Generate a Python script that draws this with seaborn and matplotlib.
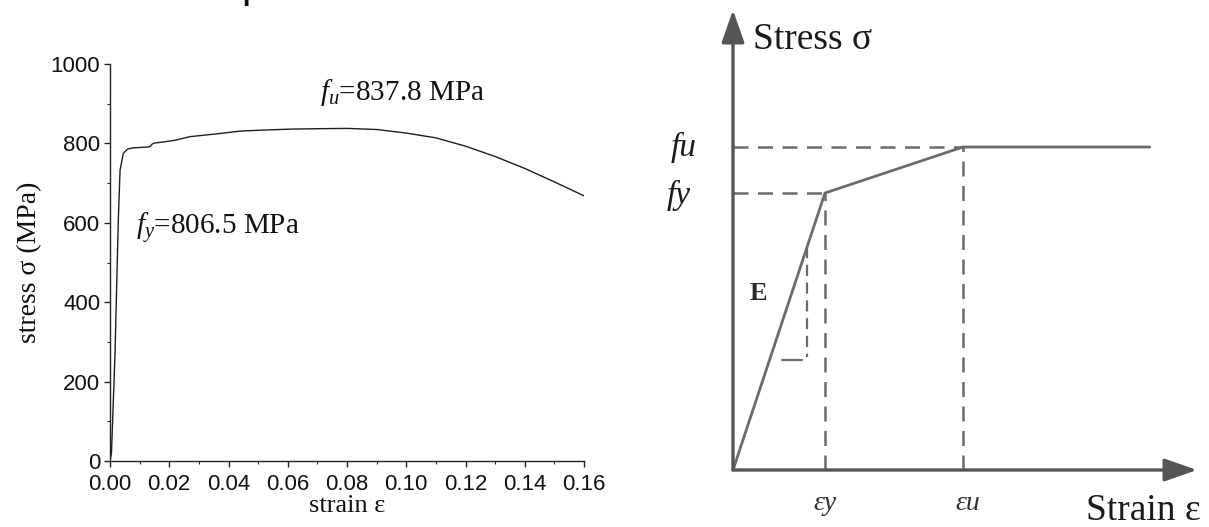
import matplotlib
matplotlib.use("Agg")
import matplotlib.pyplot as plt
from matplotlib.ticker import MultipleLocator
import seaborn as sns
import pandas as pd

# Measured engineering stress-strain curve
strain = [0.0, 0.0005, 0.0017, 0.0028, 0.0034, 0.0045, 0.0060, 0.0080, 0.0110,
          0.0128, 0.0135, 0.0142, 0.0150, 0.0174, 0.0220, 0.0270, 0.0360, 0.0440,
          0.0500, 0.0610, 0.0700, 0.0800, 0.0900, 0.1000, 0.1100, 0.1200, 0.1300,
          0.1400, 0.1500, 0.1600]
stress = [0, 20, 272, 607, 733, 775, 786, 789, 790,
          791, 792, 798, 801, 803, 808, 817, 824, 831,
          833, 836, 837, 837.8, 835, 826, 814, 793, 767,
          737, 703, 668]

fy_text = "806.5 MPa"
fu_text = "837.8 MPa"
x_ticks = [0.00, 0.02, 0.04, 0.06, 0.08, 0.10, 0.12, 0.14, 0.16]
y_ticks = [0, 200, 400, 600, 800, 1000]

# Idealised bilinear + plateau model (normalised units)
model_strain = [0.0, 1.0, 2.5, 4.53]
model_stress = [0.0, 1.0, 1.166, 1.166]
eps_y, eps_u = model_strain[1], model_strain[2]
f_y, f_u = model_stress[1], model_stress[2]

sns.set_style("ticks")
plt.rcParams["mathtext.fontset"] = "custom"
plt.rcParams["mathtext.rm"] = "Liberation Serif"
plt.rcParams["mathtext.it"] = "Liberation Serif:italic"

W, H = 1209, 527
fig = plt.figure(figsize=(W / 100, H / 100), dpi=100)


def frac(px_left, px_top, px_right, px_bottom):
    return [px_left / W, 1 - px_bottom / H, (px_right - px_left) / W, (px_bottom - px_top) / H]


# ---------------- left: test curve ----------------
ax = fig.add_axes(frac(110, 64, 584, 461))
df = pd.DataFrame({"strain": strain, "stress": stress})
sns.lineplot(data=df, x="strain", y="stress", ax=ax, color="#1e1e1e", lw=1.0,
             sort=False, estimator=None)
ax.set_xlim(0, 0.16)
ax.set_ylim(0, 1000)
ax.set_xticks(x_ticks)
ax.set_yticks(y_ticks)
ax.set_xticklabels([f"{v:.2f}" for v in x_ticks])
ax.xaxis.set_minor_locator(MultipleLocator(0.01))
ax.yaxis.set_minor_locator(MultipleLocator(100))
for side in ("top", "right"):
    ax.spines[side].set_visible(False)
for side in ("left", "bottom"):
    ax.spines[side].set_linewidth(1.0)
    ax.spines[side].set_color("#222222")
ax.tick_params(which="major", direction="out", length=4, width=1.0, pad=3,
               labelsize=16, colors="#222222", labelcolor="#111111")
ax.tick_params(axis="x", which="major", pad=5)
ax.tick_params(which="minor", direction="out", length=2.5, width=0.8, colors="#222222")
for lab in ax.get_xticklabels() + ax.get_yticklabels():
    lab.set_fontfamily("Liberation Sans")
ax.set_xlabel("strain ε", fontfamily="Liberation Serif", fontsize=19, labelpad=0,
              color="#111111")
ax.set_ylabel("stress σ (MPa)", fontfamily="Liberation Serif", fontsize=20,
              labelpad=6, color="#111111")
ax.text(0.0709, 909, r"$f_u$=" + fu_text, fontfamily="Liberation Serif",
        fontsize=21, color="#111111", va="baseline")
ax.text(0.0088, 569, r"$f_y$=" + fy_text, fontfamily="Liberation Serif",
        fontsize=21, color="#111111", va="baseline")

# cut-off heading fragment at the very top
fig.text(240 / W, 1 + 3 / H, "p", fontsize=30, color="#111111", va="baseline")

# ---------------- right: idealised model ----------------
grey = "#6b6b6b"
ax2 = fig.add_axes(frac(733, 10, 1197, 470))
ax2.set_xlim(0, 464 / 92)
ax2.set_ylim(0, 460 / 277)
ax2.axis("off")

mdf = pd.DataFrame({"strain": model_strain, "stress": model_stress})
sns.lineplot(data=mdf, x="strain", y="stress", ax=ax2, color=grey, lw=2.0,
             sort=False, estimator=None)

dash = dict(color=grey, lw=1.8, dashes=(6, 3.8))
ax2.plot([0, eps_y], [f_y, f_y], **dash)
ax2.plot([0, eps_u], [f_u, f_u], **dash)
ax2.plot([eps_y, eps_y], [0, f_y], **dash)
ax2.plot([eps_u, eps_u], [0, f_u], **dash)

# slope marker for E
ax2.plot([0.804, 0.804], [0.804, 0.408], color=grey, lw=1.6, dashes=(5, 3))
ax2.plot([0.533, 0.75], [0.397, 0.397], color=grey, lw=1.6)

# coordinate axes with arrow heads
arrow = dict(arrowstyle="-|>,head_length=2.0,head_width=0.7", color="#555555",
             lw=2.4, mutation_scale=10, shrinkA=0, shrinkB=0)
ax2.annotate("", xy=(1.0, 0.0), xytext=(0.0, 0.0), xycoords="axes fraction",
             textcoords="axes fraction", arrowprops=arrow, annotation_clip=False)
ax2.annotate("", xy=(0.0, 1.0), xytext=(0.0, 0.0), xycoords="axes fraction",
             textcoords="axes fraction", arrowprops=arrow, annotation_clip=False)

serif = "Liberation Serif"
ax2.text(0.22, (470 - 40) / 277, "Stress σ", fontfamily=serif, fontsize=27,
         color="#1a1a1a", va="center", ha="left")
ax2.text(5.08, (470 - 511) / 277, "Strain ε", fontfamily=serif, fontsize=27,
         color="#1a1a1a", va="center", ha="right", clip_on=False)
ax2.text(-0.40, f_u, "fu", fontfamily=serif, style="italic", fontsize=24,
         color="#1a1a1a", va="center", ha="right", clip_on=False)
ax2.text(-0.46, f_y - 0.01, "fy", fontfamily=serif, style="italic", fontsize=24,
         color="#1a1a1a", va="center", ha="right", clip_on=False)
ax2.text(0.28, (470 - 293) / 277, "E", fontfamily=serif, fontweight="bold",
         fontsize=19, color="#2a2a2a", va="center", ha="center")
ax2.text(eps_y, (470 - 503) / 277, "εy", fontfamily=serif, style="italic",
         fontsize=20, color="#333333", va="center", ha="center", clip_on=False)
ax2.text(eps_u + 0.05, (470 - 503) / 277, "εu", fontfamily=serif,
         style="italic", fontsize=20, color="#333333", va="center", ha="center",
         clip_on=False)

fig.savefig("out.png", dpi=100)
